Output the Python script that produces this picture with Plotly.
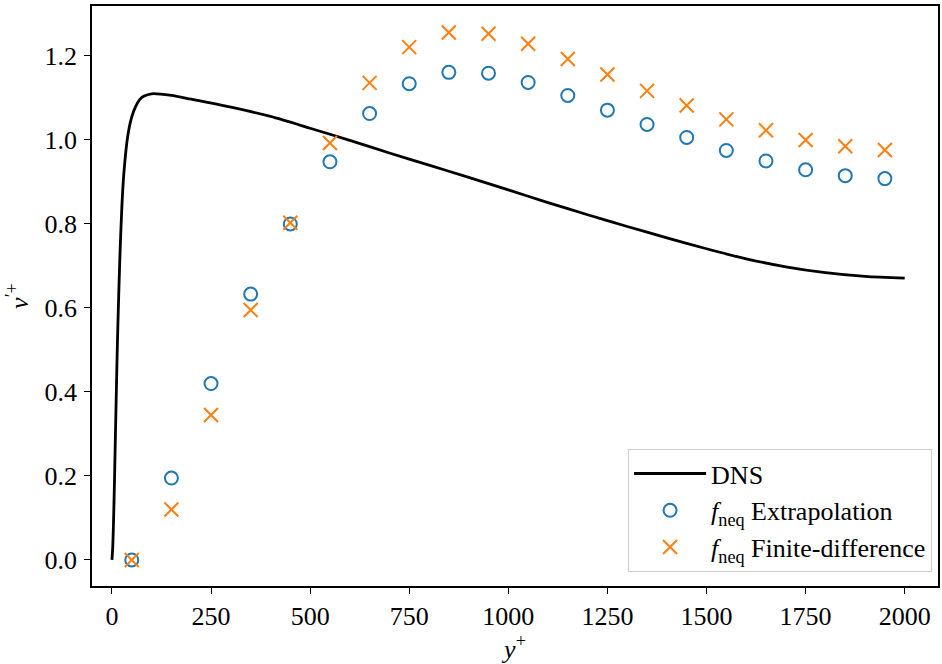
import plotly.graph_objects as go

# DNS profile
dns_y = [0, 2, 4, 6, 8, 10, 12, 15, 20, 25, 30, 40, 50, 60, 70, 80, 100, 150, 200,
         300, 400, 500, 600, 700, 800, 900, 1000, 1100, 1200, 1300, 1400, 1500, 1600,
         1700, 1800, 1900, 2000]
dns_v = [0.0, 0.03, 0.09, 0.17, 0.26, 0.35, 0.44, 0.56, 0.72, 0.84, 0.92, 1.01, 1.055, 1.08,
         1.096, 1.104, 1.11, 1.106, 1.097, 1.078, 1.056, 1.028, 0.999, 0.969, 0.94, 0.911,
         0.881, 0.851, 0.822, 0.794, 0.767, 0.741, 0.717, 0.698, 0.684, 0.675, 0.671]

# Simulation points
pts_y = [50, 150, 250, 350, 450, 550, 650, 750, 850, 950, 1050, 1150, 1250, 1350,
         1450, 1550, 1650, 1750, 1850, 1950]
extrap_v = [0.0, 0.195, 0.42, 0.633, 0.80, 0.948, 1.063, 1.134, 1.161, 1.159, 1.137,
            1.106, 1.071, 1.037, 1.006, 0.975, 0.950, 0.929, 0.915, 0.908]
fd_v = [0.0, 0.12, 0.345, 0.595, 0.803, 0.993, 1.136, 1.221, 1.256, 1.253, 1.229,
        1.193, 1.156, 1.117, 1.082, 1.049, 1.023, 1.0, 0.985, 0.976]

x_ticks = [0, 250, 500, 750, 1000, 1250, 1500, 1750, 2000]
y_ticks = [0.0, 0.2, 0.4, 0.6, 0.8, 1.0, 1.2]
y_tick_text = ["0.0", "0.2", "0.4", "0.6", "0.8", "1.0", "1.2"]

FONT = "Liberation Serif"
FS = 26

fig = go.Figure()
fig.add_trace(go.Scatter(x=dns_y, y=dns_v, mode="lines", name="DNS",
                         line=dict(color="black", width=2.8, shape="spline", smoothing=0.8)))
fig.add_trace(go.Scatter(x=pts_y, y=extrap_v, mode="markers",
                         name="<i>f</i><sub>neq</sub> Extrapolation",
                         marker=dict(symbol="circle-open", size=13, color="#1f77b4",
                                     line=dict(width=2, color="#1f77b4"))))
fig.add_trace(go.Scatter(x=pts_y, y=fd_v, mode="markers",
                         name="<i>f</i><sub>neq</sub> Finite-difference",
                         marker=dict(symbol="x-thin-open", size=14, color="#ff7f0e",
                                     line=dict(width=2, color="#ff7f0e"))))

axis_common = dict(showgrid=False, zeroline=False, showline=True, linecolor="black",
                   linewidth=1.5, mirror=True, ticks="outside", ticklen=6, tickwidth=1.3,
                   tickcolor="black", tickfont=dict(family=FONT, size=FS, color="black"))

fig.update_xaxes(range=[-50.3, 2084], tickvals=x_ticks,
                 title=dict(text="<i>y</i><sup>+</sup>", font=dict(family=FONT, size=FS),
                            standoff=4),
                 **axis_common)
fig.update_yaxes(range=[-0.062, 1.319], tickvals=y_ticks, ticktext=y_tick_text,
                 ticklabelstandoff=2,
                 title=dict(text="<i>v</i><sup>′+</sup>", font=dict(family=FONT, size=FS),
                            standoff=8),
                 **axis_common)

fig.update_layout(
    width=942, height=664,
    margin=dict(l=92, r=2, t=6, b=78),
    paper_bgcolor="white", plot_bgcolor="white",
    font=dict(family=FONT, size=FS, color="black"),
    showlegend=True,
    legend=dict(x=0.993, y=0.024, xanchor="right", yanchor="bottom",
                bgcolor="rgba(255,255,255,0.8)", bordercolor="#cccccc", borderwidth=1,
                font=dict(family=FONT, size=FS, color="black"), tracegroupgap=0,
                itemwidth=72),
)

fig.write_html("out.html")
